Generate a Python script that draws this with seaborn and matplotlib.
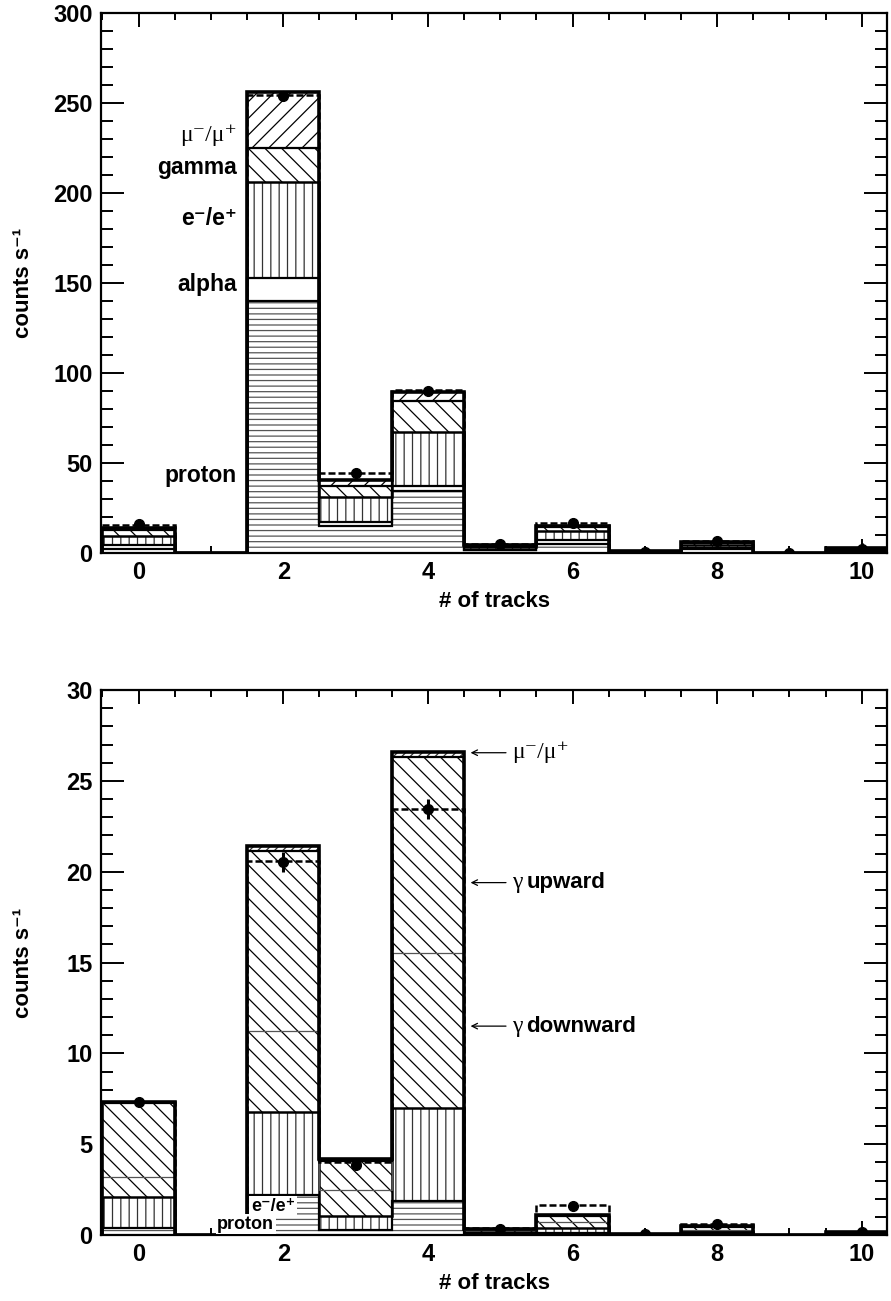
import numpy as np
import pandas as pd
import matplotlib
matplotlib.use("Agg")
import matplotlib.pyplot as plt
import seaborn as sns
from matplotlib.ticker import MultipleLocator

nan = np.nan
tracks = np.arange(11)
edges = np.arange(12) - 0.5

# ---- upper panel: all tracks, stacked by particle species (counts per second)
top_proton = [2.5, 0.0, 140.0, 15.2, 34.6, 1.5, 5.0, 0.3, 2.5, 0.10, 1.2]
top_alpha = [2.0, 0.0, 13.0, 1.8, 2.4, 0.3, 2.0, 0.1, 0.5, 0.00, 0.3]
top_elec = [5.0, 0.0, 53.0, 14.0, 30.0, 1.7, 5.3, 0.3, 1.5, 0.05, 0.8]
top_gamma = [3.2, 0.0, 19.0, 6.2, 17.6, 0.6, 2.0, 0.2, 1.0, 0.05, 0.4]
top_muon = [1.3, 0.0, 31.0, 3.3, 5.0, 0.4, 1.0, 0.1, 0.8, 0.00, 0.3]
top_meas = [15.5, 0.0, 254.5, 44.5, 90.5, 4.8, 16.5, 0.9, 6.5, 0.2, 3.0]
top_data = [16.0, nan, 254.0, 44.5, 90.2, 5.0, 16.8, 0.8, 6.6, 0.2, 2.5]
top_err = [1.0, 0.0, 2.0, 1.0, 1.5, 0.5, 1.0, 0.3, 0.6, 0.2, 3.0]

# ---- lower panel: selected events, gamma split by direction
bot_proton = [0.40, 0.0, 2.20, 0.25, 1.85, 0.05, 0.10, 0.00, 0.10, 0.0, 0.02]
bot_elec = [1.70, 0.0, 4.60, 0.80, 5.15, 0.10, 0.30, 0.01, 0.10, 0.0, 0.03]
bot_gdown = [1.10, 0.0, 4.45, 1.45, 8.50, 0.10, 0.30, 0.01, 0.10, 0.0, 0.03]
bot_gup = [4.05, 0.0, 9.90, 1.60, 10.80, 0.10, 0.35, 0.02, 0.15, 0.0, 0.05]
bot_muon = [0.05, 0.0, 0.25, 0.10, 0.30, 0.00, 0.05, 0.01, 0.05, 0.0, 0.02]
bot_meas = [7.3, 0.0, 20.6, 4.0, 23.45, 0.4, 1.65, 0.05, 0.6, 0.0, 0.15]
bot_data = [7.3, nan, 20.55, 3.85, 23.45, 0.35, 1.6, 0.05, 0.6, nan, 0.15]
bot_err = [0.15, 0.0, 0.55, 0.2, 0.55, 0.05, 0.12, 0.02, 0.07, 0.0, 0.05]

sns.set_style("ticks")
plt.rcParams["font.family"] = ["Liberation Sans", "DejaVu Sans"]
plt.rcParams["font.weight"] = "bold"
plt.rcParams["hatch.linewidth"] = 0.9
for key in ["text.color", "axes.labelcolor", "xtick.color", "ytick.color", "axes.edgecolor"]:
    plt.rcParams[key] = "black"

SERIF = ["Liberation Serif", "DejaVu Serif"]
SANS = ["Liberation Sans", "DejaVu Sans"]

fig = plt.figure(figsize=(8.91, 13.01), dpi=100)
ax_top = fig.add_axes([0.1134, 0.5749, 0.8822, 0.4151])
ax_bot = fig.add_axes([0.1134, 0.0507, 0.8822, 0.4189])


def draw_stack(ax, layers, hatches, hatch_colors, line_widths, line_colors):
    cum = np.cumsum(np.array(layers, dtype=float), axis=0)
    # draw from the tallest cumulative layer down so each lower one covers it
    for i in reversed(range(len(layers))):
        df = pd.DataFrame({"tracks": tracks, "rate": cum[i]})
        sns.barplot(data=df, x="tracks", y="rate", native_scale=True, width=1.0,
                    color="white", edgecolor=hatch_colors[i], hatch=hatches[i],
                    linewidth=0, errorbar=None, ax=ax, zorder=1)
    for i in range(len(layers)):
        ax.stairs(cum[i], edges, color=line_colors[i], lw=line_widths[i], zorder=3)


def draw_measured(ax, meas, data, err):
    ax.stairs(meas, edges, baseline=None, color="black", lw=1.8,
              linestyle=(0, (2.8, 1.2)), zorder=4)
    ax.errorbar(tracks, data, yerr=err, fmt="o", color="black", ms=7,
                elinewidth=2.2, capsize=0, zorder=5)


def style_axis(ax, ymax, ymajor, yminor):
    ax.set_xlim(-0.52, 10.35)
    ax.set_ylim(0, ymax)
    ax.xaxis.set_major_locator(MultipleLocator(2))
    ax.xaxis.set_minor_locator(MultipleLocator(0.5))
    ax.yaxis.set_major_locator(MultipleLocator(ymajor))
    ax.yaxis.set_minor_locator(MultipleLocator(yminor))
    ax.tick_params(axis="both", which="both", direction="in", top=True, right=True,
                   width=1.4, labelsize=17, pad=6, colors="black")
    ax.tick_params(axis="y", which="major", length=16.5)
    ax.tick_params(axis="y", which="minor", length=8.5)
    ax.tick_params(axis="x", which="major", length=10)
    ax.tick_params(axis="x", which="minor", length=5)
    for lab in ax.get_xticklabels() + ax.get_yticklabels():
        lab.set_fontweight("bold")
    for sp in ax.spines.values():
        sp.set_visible(True)
        sp.set_linewidth(1.6)
        sp.set_color("black")
        sp.set_zorder(6)
    ax.set_xlabel("# of tracks", fontsize=16, fontweight="bold", labelpad=5)
    ax.set_ylabel("counts s\u207b\u00b9", fontsize=16, fontweight="bold")
    ax.yaxis.set_label_coords(-0.085, 0.5)


# ---- upper panel
draw_stack(ax_top,
           [top_proton, top_alpha, top_elec, top_gamma, top_muon],
           ["---", "", "||", "\\\\", "//"],
           ["#555555", "black", "#333333", "black", "black"],
           [1.6, 1.6, 1.8, 1.6, 2.6],
           ["black"] * 5)
draw_measured(ax_top, top_meas, top_data, top_err)
style_axis(ax_top, 300, 50, 10)
ax_top.set_xticks([0, 2, 4, 6, 8, 10])

lab_x = 1.36
ax_top.text(lab_x, 232, "\u03bc\u207b/\u03bc\u207a", ha="right", va="center",
            fontsize=17, fontweight="normal", family=SERIF, zorder=7)
for txt, yv in [("gamma", 214), ("e\u207b/e\u207a", 186), ("alpha", 149), ("proton", 43)]:
    ax_top.text(lab_x, yv, txt, ha="right", va="center", fontsize=16.5,
                fontweight="bold", family=SANS, zorder=7)

# ---- lower panel
draw_stack(ax_bot,
           [bot_proton, bot_elec, bot_gdown, bot_gup, bot_muon],
           ["---", "||", "\\\\", "\\\\", "////"],
           ["#555555", "#333333", "black", "black", "#333333"],
           [1.6, 1.8, 0.9, 1.6, 2.6],
           ["black", "black", "#555555", "black", "black"])
draw_measured(ax_bot, bot_meas, bot_data, bot_err)
style_axis(ax_bot, 30, 5, 1)
ax_bot.set_xticks([0, 2, 4, 6, 8, 10])

arrow_tip, arrow_tail, text_x = 4.59, 5.08, 5.16
for yv, greek, word in [(26.55, "\u03bc\u207b/\u03bc\u207a", ""),
                        (19.4, "\u03b3", "upward"),
                        (11.5, "\u03b3", "downward")]:
    ax_bot.annotate("", xy=(arrow_tip, yv), xytext=(arrow_tail, yv),
                    arrowprops=dict(arrowstyle="->", color="black", lw=0.9,
                                    shrinkA=0, shrinkB=0), zorder=7)
    ax_bot.text(text_x, yv, greek, ha="left", va="center", fontsize=17,
                fontweight="normal", family=SERIF, zorder=7)
    if word:
        ax_bot.text(text_x + 0.2, yv, word, ha="left", va="center", fontsize=16,
                    fontweight="bold", family=SANS, zorder=7)

ax_bot.text(1.86, 1.55, "e\u207b/e\u207a", ha="center", va="center", fontsize=13,
            fontweight="bold", family=SANS, zorder=7,
            bbox=dict(facecolor="white", edgecolor="none", pad=1.5))
ax_bot.text(1.48, 0.6, "proton", ha="center", va="center", fontsize=13,
            fontweight="bold", family=SANS, zorder=7,
            bbox=dict(facecolor="white", edgecolor="none", pad=1.0))

fig.savefig("out.png", dpi=100)
